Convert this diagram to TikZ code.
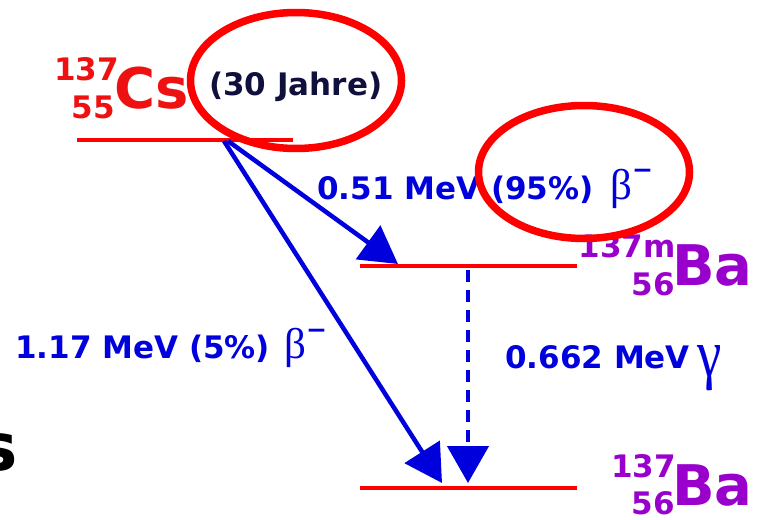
\documentclass[tikz,border=0pt]{standalone}
\usepackage{fontspec}
\setmainfont{DejaVu Sans}
\newfontfamily\greekfont{Liberation Serif}
\usetikzlibrary{arrows.meta}
\definecolor{csred}{HTML}{EE1111}
\definecolor{levelred}{HTML}{FF0000}
\definecolor{decayblue}{HTML}{0000DD}
\definecolor{bapurple}{HTML}{9900CC}
\definecolor{halfnavy}{HTML}{10103C}
\newcommand{\fsz}[1]{\fontsize{#1}{#1}\selectfont}
\newcommand{\betaminus}[1]{{\greekfont\mdseries\fsz{43}β}\raisebox{#1}{\bfseries\fsz{25}−}}

\begin{document}
\begin{tikzpicture}[x=1pt, y=-1pt,
    level/.style={draw=levelred, line width=4.5pt},
    decay/.style={draw=decayblue, line width=4.5pt, -{Triangle[length=37pt,width=41pt]}},
    gammaline/.style={decay, dash pattern=on 12pt off 8pt},
    ring/.style={draw=levelred, line width=7.5pt},
    lbl/.style={inner sep=0pt, anchor=base west, text=decayblue, font=\bfseries\fsz{31}},
    nuc/.style={inner sep=0pt, anchor=base west, font=\bfseries\fsz{56}},
    iso/.style={inner sep=0pt, anchor=base east, font=\bfseries\fsz{31}}]
    \useasboundingbox (0,0) rectangle (759,519);

    % energy levels
    \coordinate (csL) at (77,140);  \coordinate (csR) at (293,140);
    \coordinate (bamL) at (360,266); \coordinate (bamR) at (577,266);
    \coordinate (baL) at (360,488);  \coordinate (baR) at (577,488);
    \draw[level] (csL) -- (csR);
    \draw[level] (bamL) -- (bamR);
    \draw[level] (baL) -- (baR);

    % nuclides
    \node[iso, text=csred] (csA) at (119,80) {137};
    \node[iso, text=csred] (csZ) at (115,118) {55};
    \node[nuc, text=csred] (cs) at (114,108) {Cs};
    \node[inner sep=0pt, anchor=base west, text=halfnavy, font=\bfseries\fsz{31}] (halflife) at (209,95) {(30 Jahre)};
    \node[iso, text=bapurple] (bamA) at (676,257) {137m};
    \node[iso, text=bapurple] (bamZ) at (675,295) {56};
    \node[nuc, text=bapurple] (bam) at (672,285) {Ba};
    \node[iso, text=bapurple] (baA) at (676,477) {137};
    \node[iso, text=bapurple] (baZ) at (675,514) {56};
    \node[nuc, text=bapurple] (ba) at (672,505) {Ba};
    \node[inner sep=0pt, anchor=base east, font=\bfseries\fsz{66}] (cut) at (18,470) {s};

    % transitions
    \coordinate (start95) at (228,141);
    \coordinate (start5) at (224,141);
    \coordinate (end95) at (398,264);
    \coordinate (end5) at (442,483);
    \coordinate (gtop) at (468,270);
    \coordinate (gend) at (468,483);
    \draw[decay] (start95) -- (end95);
    \draw[decay] (start5) -- (end5);
    \draw[gammaline] (gtop) -- (gend);

    % labels
    \node[lbl] (e95) at (317,199) {0.51 MeV (95\%)};
    \node[lbl] (beta95) at (610,199) {\betaminus{21pt}};
    \node[lbl] (e5) at (15,358) {1.17 MeV (5\%)};
    \node[lbl] (beta5) at (284,358) {\betaminus{20pt}};
    \node[lbl] (egamma) at (505,368) {0.662 MeV};
    \node[lbl] (gamma) at (697,368) {\raisebox{-8pt}{\scalebox{1.1}[1.35]{\greekfont\mdseries\fsz{50}γ}}};

    % highlight rings
    \draw[ring] (296,80.5) ellipse [x radius=105.5pt, y radius=68pt];
    \draw[ring] (584,172) ellipse [x radius=105.5pt, y radius=66.5pt];
\end{tikzpicture}
\end{document}
